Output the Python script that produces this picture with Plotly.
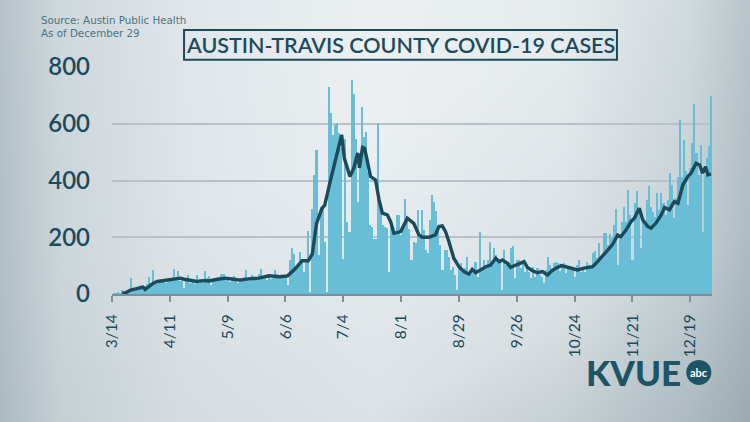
import base64
import pandas as pd
import plotly.graph_objects as go

# ---------------- data ----------------
start_date = "2020-03-14"

daily_cases = [
    # 3/14 - 4/10
    0, 2, 1, 4, 3, 14, 6, 10, 12, 56, 18, 22, 15, 25, 30, 20, 28, 34, 61, 40, 84, 45, 35, 49, 42, 50, 38, 45,
    # 4/11 - 5/8
    55, 47, 87, 50, 82, 45, 52, 20, 55, 67, 40, 48, 35, 67, 40, 44, 38, 80, 55, 63, 33, 50, 45, 55, 48, 71, 71, 52,
    # 5/9 - 6/5
    60, 42, 55, 64, 48, 38, 58, 50, 60, 84, 52, 45, 67, 55, 50, 70, 87, 55, 62, 48, 66, 54, 58, 86, 71, 60, 65, 58,
    # 6/6 - 7/3
    68, 31, 119, 163, 142, 89, 100, 148, 125, 78, 113, 221, 7, 301, 419, 507, 136, 307, 313, 183, 7,
    731, 637, 560, 595, 601, 566, 513,
    # 7/4 - 7/31
    125, 548, 254, 218, 754, 704, 548, 324, 466, 660, 554, 572, 430, 242, 237, 195, 195, 601, 318, 242, 237,
    231, 78, 256, 218, 213, 280, 280,
    # 8/1 - 8/28
    207, 248, 336, 265, 229, 120, 185, 179, 296, 196, 296, 226, 155, 143, 261, 349, 326, 291, 238, 173, 85,
    155, 155, 132, 85, 96, 67, 14,
    # 8/29 - 9/25
    91, 108, 85, 91, 129, 79, 73, 85, 114, 61, 217, 91, 120, 102, 120, 185, 102, 161, 138, 108, 120, 14,
    155, 102, 114, 161, 169, 55,
    # 9/26 - 10/23
    120, 120, 91, 108, 79, 102, 79, 55, 96, 61, 91, 67, 61, 38, 85, 132, 102, 91, 108, 114, 108, 80,
    102, 108, 73, 96, 85, 91,
    # 10/24 - 11/20
    61, 102, 120, 79, 85, 79, 114, 102, 91, 143, 153, 126, 179, 126, 214, 214, 173, 211, 197, 244, 300,
    102, 208, 255, 308, 255, 367, 279,
    # 11/21 - 12/18
    120, 320, 364, 290, 161, 267, 250, 332, 379, 308, 290, 273, 355, 296, 355, 320, 279, 332, 426, 385,
    267, 338, 414, 614, 414, 544, 432, 314,
    # 12/19 - 12/29
    444, 532, 670, 497, 420, 526, 220, 420, 480, 520, 697,
]

# 7-day average line, read as (days after 3/14, value)
avg_days = [5, 7, 9, 12, 15, 16, 18, 20, 22, 25, 28, 30, 33, 35, 38, 41, 44, 47, 51, 55, 59, 62, 67, 71, 76,
            81, 85, 88.6, 92, 95, 97, 99, 101.6, 103, 105.6, 109, 110.5, 111.2, 112.5, 115.2, 117, 119,
            119.8, 121.3, 122.3, 125.2, 127.6, 129.3, 130.9, 133.3, 134.9, 136.5, 139.8, 143, 146.1, 148.6,
            150.2, 153.4, 156.6, 158.3, 159.9, 161.5, 163.1, 165.5, 168, 170.4, 172.8, 174.4, 176.1, 178.5,
            181, 183.3, 185.8, 187.4, 189, 191.4, 193, 195.5, 197.9, 199.5, 201.1, 203.6, 206, 208.4, 210.9,
            212.5, 214.9, 217.5, 219.7, 223, 225.4, 228.6, 232.7, 235.1, 237.5, 240, 242.4, 244.8, 246.4,
            248.9, 251.3, 252.9, 255.3, 257, 259.4, 261, 263.4, 265.9, 267.5, 269.9, 272.3, 274, 276.4,
            278.8, 280.4, 282.8, 284.5, 286, 287.4, 288.5, 290]
avg_values = [2, 6, 14, 20, 24, 16, 28, 38, 44, 47, 49, 52, 56, 52, 47, 44, 47, 46, 52, 56, 52, 49, 54, 56, 64,
              61, 64, 88, 117, 117, 141, 248, 301, 313, 395, 501, 548, 561, 478, 414, 442, 497,
              445, 517, 514, 414, 402, 332, 285, 279, 255, 214, 220, 267, 249, 208,
              200, 200, 208, 238, 240, 220, 185, 126, 96, 79, 70, 87, 75, 87,
              96, 102, 126, 114, 120, 108, 94, 102, 108, 114, 94, 82, 75, 79, 67,
              79, 91, 100, 96, 91, 85, 91, 96, 114, 132, 155, 175, 208, 202,
              226, 255, 267, 302, 261, 238, 232, 250, 279, 305, 297, 326, 320, 385,
              414, 426, 461, 455, 426, 449, 420, 423]

tick_dates = ["2020-03-14", "2020-04-11", "2020-05-09", "2020-06-06", "2020-07-04", "2020-08-01",
              "2020-08-29", "2020-09-26", "2020-10-24", "2020-11-21", "2020-12-19"]
tick_labels = ["3/14", "4/11", "5/9", "6/6", "7/4", "8/1", "8/29", "9/26", "10/24", "11/21", "12/19"]
y_ticks = [0, 200, 400, 600, 800]

title_text = "AUSTIN-TRAVIS COUNTY COVID-19 CASES"
source_lines = ["Source: Austin Public Health", "As of December 29"]

# ---------------- layout helpers ----------------
W, H = 750, 422
L, R, T, B = 112, 38.3, 67.3, 128
PW, PH = W - L - R, H - T - B


def px(x):
    return (x - L) / PW


def py(y):
    return (H - B - y) / PH


DARK = "#1b4b5a"
BAR = "#68bdd7"

bar_dates = pd.date_range(start_date, periods=len(daily_cases), freq="D")
line_dates = pd.Timestamp(start_date) + pd.to_timedelta(avg_days, unit="D")

fig = go.Figure()
fig.add_trace(go.Bar(x=bar_dates, y=daily_cases, marker=dict(color=BAR, line=dict(width=0)),
                     width=86400000, hoverinfo="skip"))
fig.add_trace(go.Scatter(x=line_dates, y=avg_values, mode="lines",
                         line=dict(color=DARK, width=3.4), hoverinfo="skip"))

# background gradient as inline SVG
svg = f'''<svg xmlns="http://www.w3.org/2000/svg" width="{W}" height="{H}" viewBox="0 0 {W} {H}" preserveAspectRatio="none">
<defs>
<linearGradient id="h" x1="0" y1="0" x2="1" y2="0">
<stop offset="0" stop-color="#aebcc3"/>
<stop offset="0.08" stop-color="#c9d3d8"/>
<stop offset="0.25" stop-color="#dde4e8"/>
<stop offset="0.5" stop-color="#e9eef1"/>
<stop offset="0.75" stop-color="#e3e9ec"/>
<stop offset="0.92" stop-color="#ccd6da"/>
<stop offset="1" stop-color="#b2bfc5"/>
</linearGradient>
<linearGradient id="d" x1="0.45" y1="0.35" x2="1" y2="1">
<stop offset="0" stop-color="#7f909a" stop-opacity="0"/>
<stop offset="0.6" stop-color="#7f909a" stop-opacity="0.12"/>
<stop offset="1" stop-color="#7f909a" stop-opacity="0.45"/>
</linearGradient>
<linearGradient id="v" x1="0" y1="0" x2="0" y2="1">
<stop offset="0" stop-color="#ffffff" stop-opacity="0.10"/>
<stop offset="1" stop-color="#ffffff" stop-opacity="0"/>
</linearGradient>
</defs>
<rect width="{W}" height="{H}" fill="url(#h)"/>
<rect width="{W}" height="{H}" fill="url(#v)"/>
<rect width="{W}" height="{H}" fill="url(#d)"/>
</svg>'''
src = "data:image/svg+xml;base64," + base64.b64encode(svg.encode()).decode()

fig.update_layout(
    width=W, height=H,
    margin=dict(l=L, r=R, t=T, b=B, pad=0),
    paper_bgcolor="#dbe3e7", plot_bgcolor="rgba(0,0,0,0)",
    showlegend=False, bargap=0,
    font=dict(family="Lato, sans-serif", color=DARK),
    images=[dict(source=src, xref="paper", yref="paper", x=px(0), y=py(0), sizex=W / PW, sizey=H / PH,
                 xanchor="left", yanchor="top", sizing="stretch", layer="below")],
    xaxis=dict(type="date", range=["2020-03-14", "2020-12-29 12:00"], tickvals=tick_dates,
               ticktext=tick_labels, tickangle=-90, tickfont=dict(size=15.5, color=DARK),
               showgrid=False, showline=True, linecolor="#7d8f98", linewidth=2,
               ticks="outside", ticklen=6, tickwidth=1.5, tickcolor="#7d8f98", ticklabelstandoff=6,
               zeroline=False, fixedrange=True),
    yaxis=dict(range=[0, 800], tickvals=y_ticks, ticktext=[str(v) for v in y_ticks],
               tickfont=dict(size=24, color=DARK, weight=600), showgrid=True, gridcolor="#b7c1c6",
               gridwidth=1.5, zeroline=False, showline=False, ticks="", ticklabelstandoff=21,
               fixedrange=True),
    shapes=[
        dict(type="rect", xref="paper", yref="paper", x0=px(184), x1=px(616.7), y0=py(60), y1=py(30.3),
             line=dict(color=DARK, width=2), fillcolor="rgba(0,0,0,0)"),
        dict(type="circle", xref="paper", yref="paper", x0=px(686), x1=px(711), y0=py(384.8), y1=py(359.8),
             line=dict(width=0), fillcolor="#1d5466"),
    ],
    annotations=[
        dict(text=title_text, x=px(400.5), y=py(45.5), xref="paper", yref="paper", showarrow=False,
             xanchor="center", yanchor="middle", font=dict(size=21.5, color=DARK, weight=600)),
        dict(text=source_lines[0], x=px(39.5), y=py(20.3), xref="paper", yref="paper", showarrow=False,
             xanchor="left", yanchor="middle",
             font=dict(size=10.3, color="#4a7482", family="DejaVu Sans, sans-serif")),
        dict(text=source_lines[1], x=px(39.5), y=py(33.2), xref="paper", yref="paper", showarrow=False,
             xanchor="left", yanchor="middle",
             font=dict(size=10.3, color="#4a7482", family="DejaVu Sans, sans-serif")),
        dict(text="KVUE", x=px(584), y=py(371.5), xref="paper", yref="paper", showarrow=False,
             xanchor="left", yanchor="middle", font=dict(size=35, color="#1d5466", weight=900)),
        dict(text="abc", x=px(698.5), y=py(372.5), xref="paper", yref="paper", showarrow=False,
             xanchor="center", yanchor="middle", font=dict(size=11, color="white", weight=700)),
    ],
)

fig.write_html("out.html")
